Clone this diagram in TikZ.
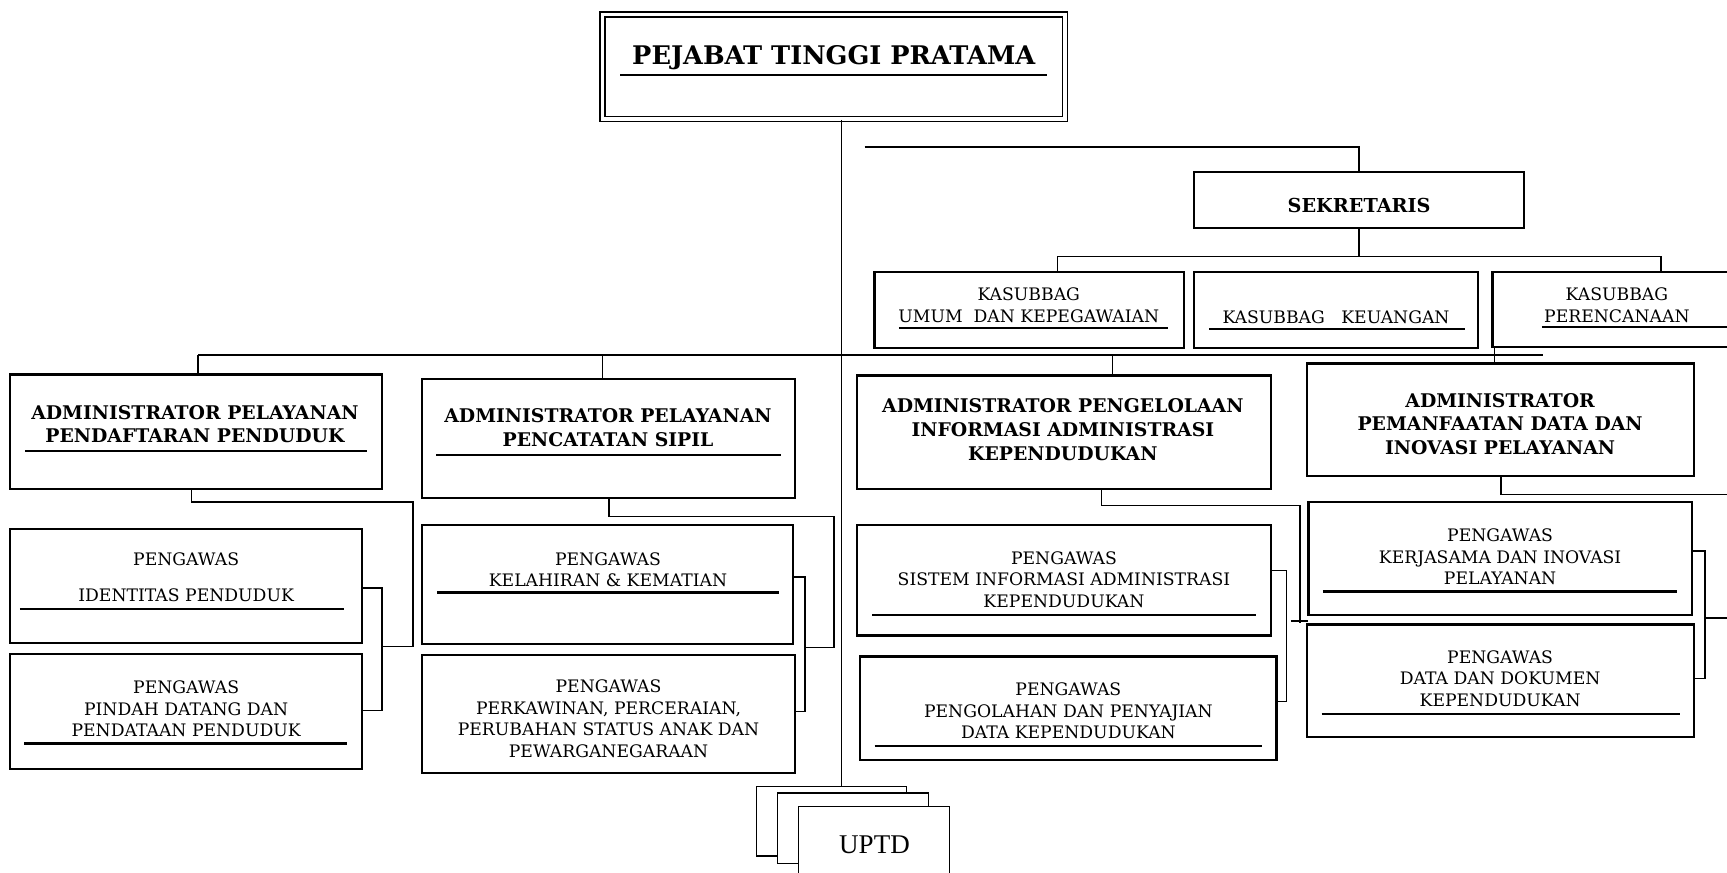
\documentclass[tikz,border=0pt]{standalone}
\usepackage{fontspec}
\setmainfont{DejaVu Serif}
\newfontfamily\uptdfont{Liberation Serif}
\usetikzlibrary{fit}

\begin{document}
\begin{tikzpicture}[x=0.55pt,y=-0.55pt]%[scale=0.5]

		\tikzstyle{box}=[draw, line width=1.1pt, inner sep=0pt, fill=white]
		\tikzstyle{thinbox}=[draw, line width=0.7pt, inner sep=0pt, fill=white]
		\tikzstyle{head}=[font=\fontsize{9.4}{11.8}\selectfont\bfseries, align=center, inner sep=0pt]
		\tikzstyle{txt}=[font=\fontsize{8.6}{10.7}\selectfont, align=center, inner sep=0pt]
		\tikzstyle{uline}=[line width=1.1pt]
		\tikzstyle{link}=[line width=0.85pt]

		\useasboundingbox (0,0) rectangle (1568,792);
		\clip (0,0) rectangle (1568,792);

		\node[box, double, double distance=1.6pt, line width=0.9pt, fit={(547,13) (967,108)}] (pej) {};
		\node[head, font=\fontsize{12.8}{14}\selectfont\bfseries] (pejt) at (757,52) {PEJABAT TINGGI PRATAMA};
		\draw[uline] (563,68) -- (951,68);

		\node[box, fit={(1084,156) (1384,207)}] (sek) {};
		\node[head, font=\fontsize{9.6}{11.8}\selectfont\bfseries] (sekt) at (1234,187) {SEKRETARIS};

		\node[box, fit={(794,247) (1075,316)}] (k1) {};
		\node[txt] (k1t) at (934,277) {KASUBBAG\\UMUM~~DAN KEPEGAWAIAN};
		\draw[uline] (816,298) -- (1060,298);
		\node[box, fit={(1084,247) (1342,316)}] (k2) {};
		\node[txt] (k2t) at (1213,288) {KASUBBAG~~~KEUANGAN};
		\draw[uline] (1098,299) -- (1330,299);
		\node[box, fit={(1355,247) (1582,315)}] (k3) {};
		\node[txt] (k3t) at (1468,277) {KASUBBAG\\PERENCANAAN};
		\draw[uline] (1400,297) -- (1600,297);

		\node[box, fit={(9,340) (347,444)}] (a1) {};
		\node[head] (a1t) at (177,385) {ADMINISTRATOR PELAYANAN\\PENDAFTARAN PENDUDUK};
		\draw[uline] (23,409.5) -- (333,409.5);
		\node[box, fit={(383,344) (722,452)}] (a2) {};
		\node[head] (a2t) at (552,388) {ADMINISTRATOR PELAYANAN\\PENCATATAN SIPIL};
		\draw[uline] (396,413) -- (709,413);
		\node[box, fit={(778,341) (1154,444)}] (a3) {};
		\node[head] (a3t) at (965,390) {ADMINISTRATOR PENGELOLAAN\\INFORMASI ADMINISTRASI\\KEPENDUDUKAN};
		\node[box, fit={(1187,330) (1538,432)}] (a4) {};
		\node[head] (a4t) at (1362,385) {ADMINISTRATOR\\PEMANFAATAN DATA DAN\\INOVASI PELAYANAN};

		\node[box, fit={(9,480) (329,584)}] (p1a) {};
		\node[txt] (p1at) at (169,524) {PENGAWAS\\[7pt]IDENTITAS PENDUDUK};
		\draw[uline] (18,553) -- (312,553);
		\node[box, fit={(9,594) (329,698)}] (p1b) {};
		\node[txt] (p1bt) at (169,643.5) {PENGAWAS\\PINDAH DATANG DAN\\PENDATAAN PENDUDUK};
		\draw[uline] (22,675) -- (315,675);

		\node[box, fit={(383,477) (720,585)}] (p2a) {};
		\node[txt] (p2at) at (552,517) {PENGAWAS\\KELAHIRAN \& KEMATIAN};
		\draw[uline] (397,538) -- (707,538);
		\node[box, fit={(383,595) (722,702)}] (p2b) {};
		\node[txt] (p2bt) at (552.5,652.5) {PENGAWAS\\PERKAWINAN, PERCERAIAN,\\PERUBAHAN STATUS ANAK DAN\\PEWARGANEGARAAN};

		\node[box, fit={(778,477) (1154,577)}] (p3a) {};
		\node[txt] (p3at) at (966,526) {PENGAWAS\\SISTEM INFORMASI ADMINISTRASI\\KEPENDUDUKAN};
		\draw[uline] (792,558) -- (1140,558);
		\node[box, fit={(781,596) (1159,690)}] (p3b) {};
		\node[txt] (p3bt) at (970,645.5) {PENGAWAS\\PENGOLAHAN DAN PENYAJIAN\\DATA KEPENDUDUKAN};
		\draw[uline] (794,677) -- (1146,677);

		\node[box, fit={(1188,456) (1536,558)}] (p4a) {};
		\node[txt] (p4at) at (1362,505.5) {PENGAWAS\\KERJASAMA DAN INOVASI\\PELAYANAN};
		\draw[uline] (1201,537) -- (1523,537);
		\node[box, fit={(1187,567) (1538,669)}] (p4b) {};
		\node[txt] (p4bt) at (1362,616) {PENGAWAS\\DATA DAN DOKUMEN\\KEPENDUDUKAN};
		\draw[uline] (1200,648) -- (1525,648);

		\node[thinbox, fit={(687,714) (823,777)}] (uptd1) {};
		\node[thinbox, fit={(706,720) (843,784)}] (uptd2) {};
		\node[thinbox, fit={(725,732) (862,810)}] (uptd3) {};
		\node[inner sep=0pt, font=\uptdfont\fontsize{13.5}{15}\selectfont] (uptdt) at (794,767) {UPTD};

		\coordinate (trunk) at (764,714);
		\draw[link] (pej.south -| trunk) -- (trunk);

		\coordinate (sekL) at (785,133.5);
		\draw[link] (sekL) -| (sek.north);
		\draw[link] (sek.south) -- (sek.south |- 0,233);
		\draw[link] (k1.north -| 960,0) -- (960,233) -- (1508,233) -- (k3.north -| 1508,0);

		\coordinate (busL) at (180,322);
		\coordinate (busR) at (1401,322);
		\draw[link] (busL) -- (busR);
		\draw[link] (busL) -- (a1.north -| busL);
		\draw[link] (busL -| 547,0) -- (a2.north -| 547,0);
		\draw[link] (busL -| 1010,0) -- (a3.north -| 1010,0);
		\draw[link] (k3.south -| 1357,0) -- (a4.north -| 1357,0);

		\coordinate (brk1) at (347,587);
		\draw[link] (a1.south -| 174,0) |- (375,456) |- (brk1);
		\draw[link] (p1a.east |- 0,534) -| (brk1) |- (p1b.east |- 0,645);

		\coordinate (brk2) at (731,588);
		\draw[link] (a2.south -| 553,0) |- (757,469) |- (brk2);
		\draw[link] (p2a.east |- 0,524) -| (brk2) |- (p2b.east |- 0,646);

		\coordinate (brk3) at (1168,578);
		\coordinate (in3) at (1180,566);
		\draw[link] (a3.south -| 1000,0) |- (1180,459) -- (in3);
		\draw[link] (1172,564) -- (1188,564);
		\draw[link] (p3a.east |- 0,518) -| (brk3) |- (p3b.east |- 0,637);

		\coordinate (brk4) at (1548,561);
		\draw[link] (a4.south -| 1363,0) |- (1600,449) |- (brk4);
		\draw[link] (p4a.east |- 0,500) -| (brk4) |- (p4b.east |- 0,616);

\end{tikzpicture}
\end{document}
